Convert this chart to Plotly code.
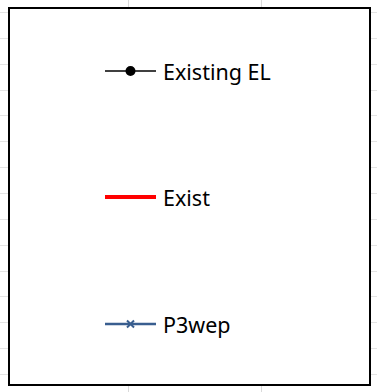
import plotly.graph_objects as go

# legend entries
series_names = ["Existing EL", "Exist", "P3wep"]
series_colors = ["#000000", "#FF0000", "#395E8F"]
series_widths = [1.5, 4, 2.5]
series_markers = ["circle", None, "x-thin-open"]
marker_sizes = [8, 0, 7]

W, H = 377, 392
entry_y = [71, 197, 324]
line_x0, line_x1 = 105, 156

fig = go.Figure()

for i, name in enumerate(series_names):
    fig.add_trace(go.Scatter(
        x=[line_x0, line_x1], y=[entry_y[i], entry_y[i]],
        mode="lines", line=dict(color=series_colors[i], width=series_widths[i]),
        hoverinfo="skip", showlegend=False))
    if series_markers[i]:
        fig.add_trace(go.Scatter(
            x=[(line_x0 + line_x1) / 2], y=[entry_y[i]], mode="markers",
            marker=dict(symbol=series_markers[i], size=marker_sizes[i],
                        color=series_colors[i],
                        line=dict(color=series_colors[i], width=2)),
            hoverinfo="skip", showlegend=False))
    fig.add_annotation(x=161, y=entry_y[i], text=name, showarrow=False,
                       xanchor="left", yanchor="middle",
                       font=dict(family="Noto Sans", size=21.5, color="#000000"))

# legend frame
fig.add_shape(type="rect", x0=9, x1=370, y0=8, y1=385, layer="between",
              fillcolor="white", line=dict(color="#000000", width=2))

grid_x = [128, 261]
grid_y = [12.5 + 25.85 * k for k in range(15)]

fig.update_xaxes(range=[0, W], tickvals=grid_x, showticklabels=False,
                 showgrid=True, gridcolor="#DADADA", gridwidth=1,
                 zeroline=False, showline=False, fixedrange=True)
fig.update_yaxes(range=[H, 0], tickvals=grid_y, showticklabels=False,
                 showgrid=True, gridcolor="#E3E3E3", gridwidth=1,
                 zeroline=False, showline=False, fixedrange=True)

fig.update_layout(width=W, height=H, margin=dict(l=0, r=0, t=0, b=0),
                  plot_bgcolor="white", paper_bgcolor="white")

fig.write_html("out.html", config={"displayModeBar": False},
               post_script="document.body.style.margin='0px';")
